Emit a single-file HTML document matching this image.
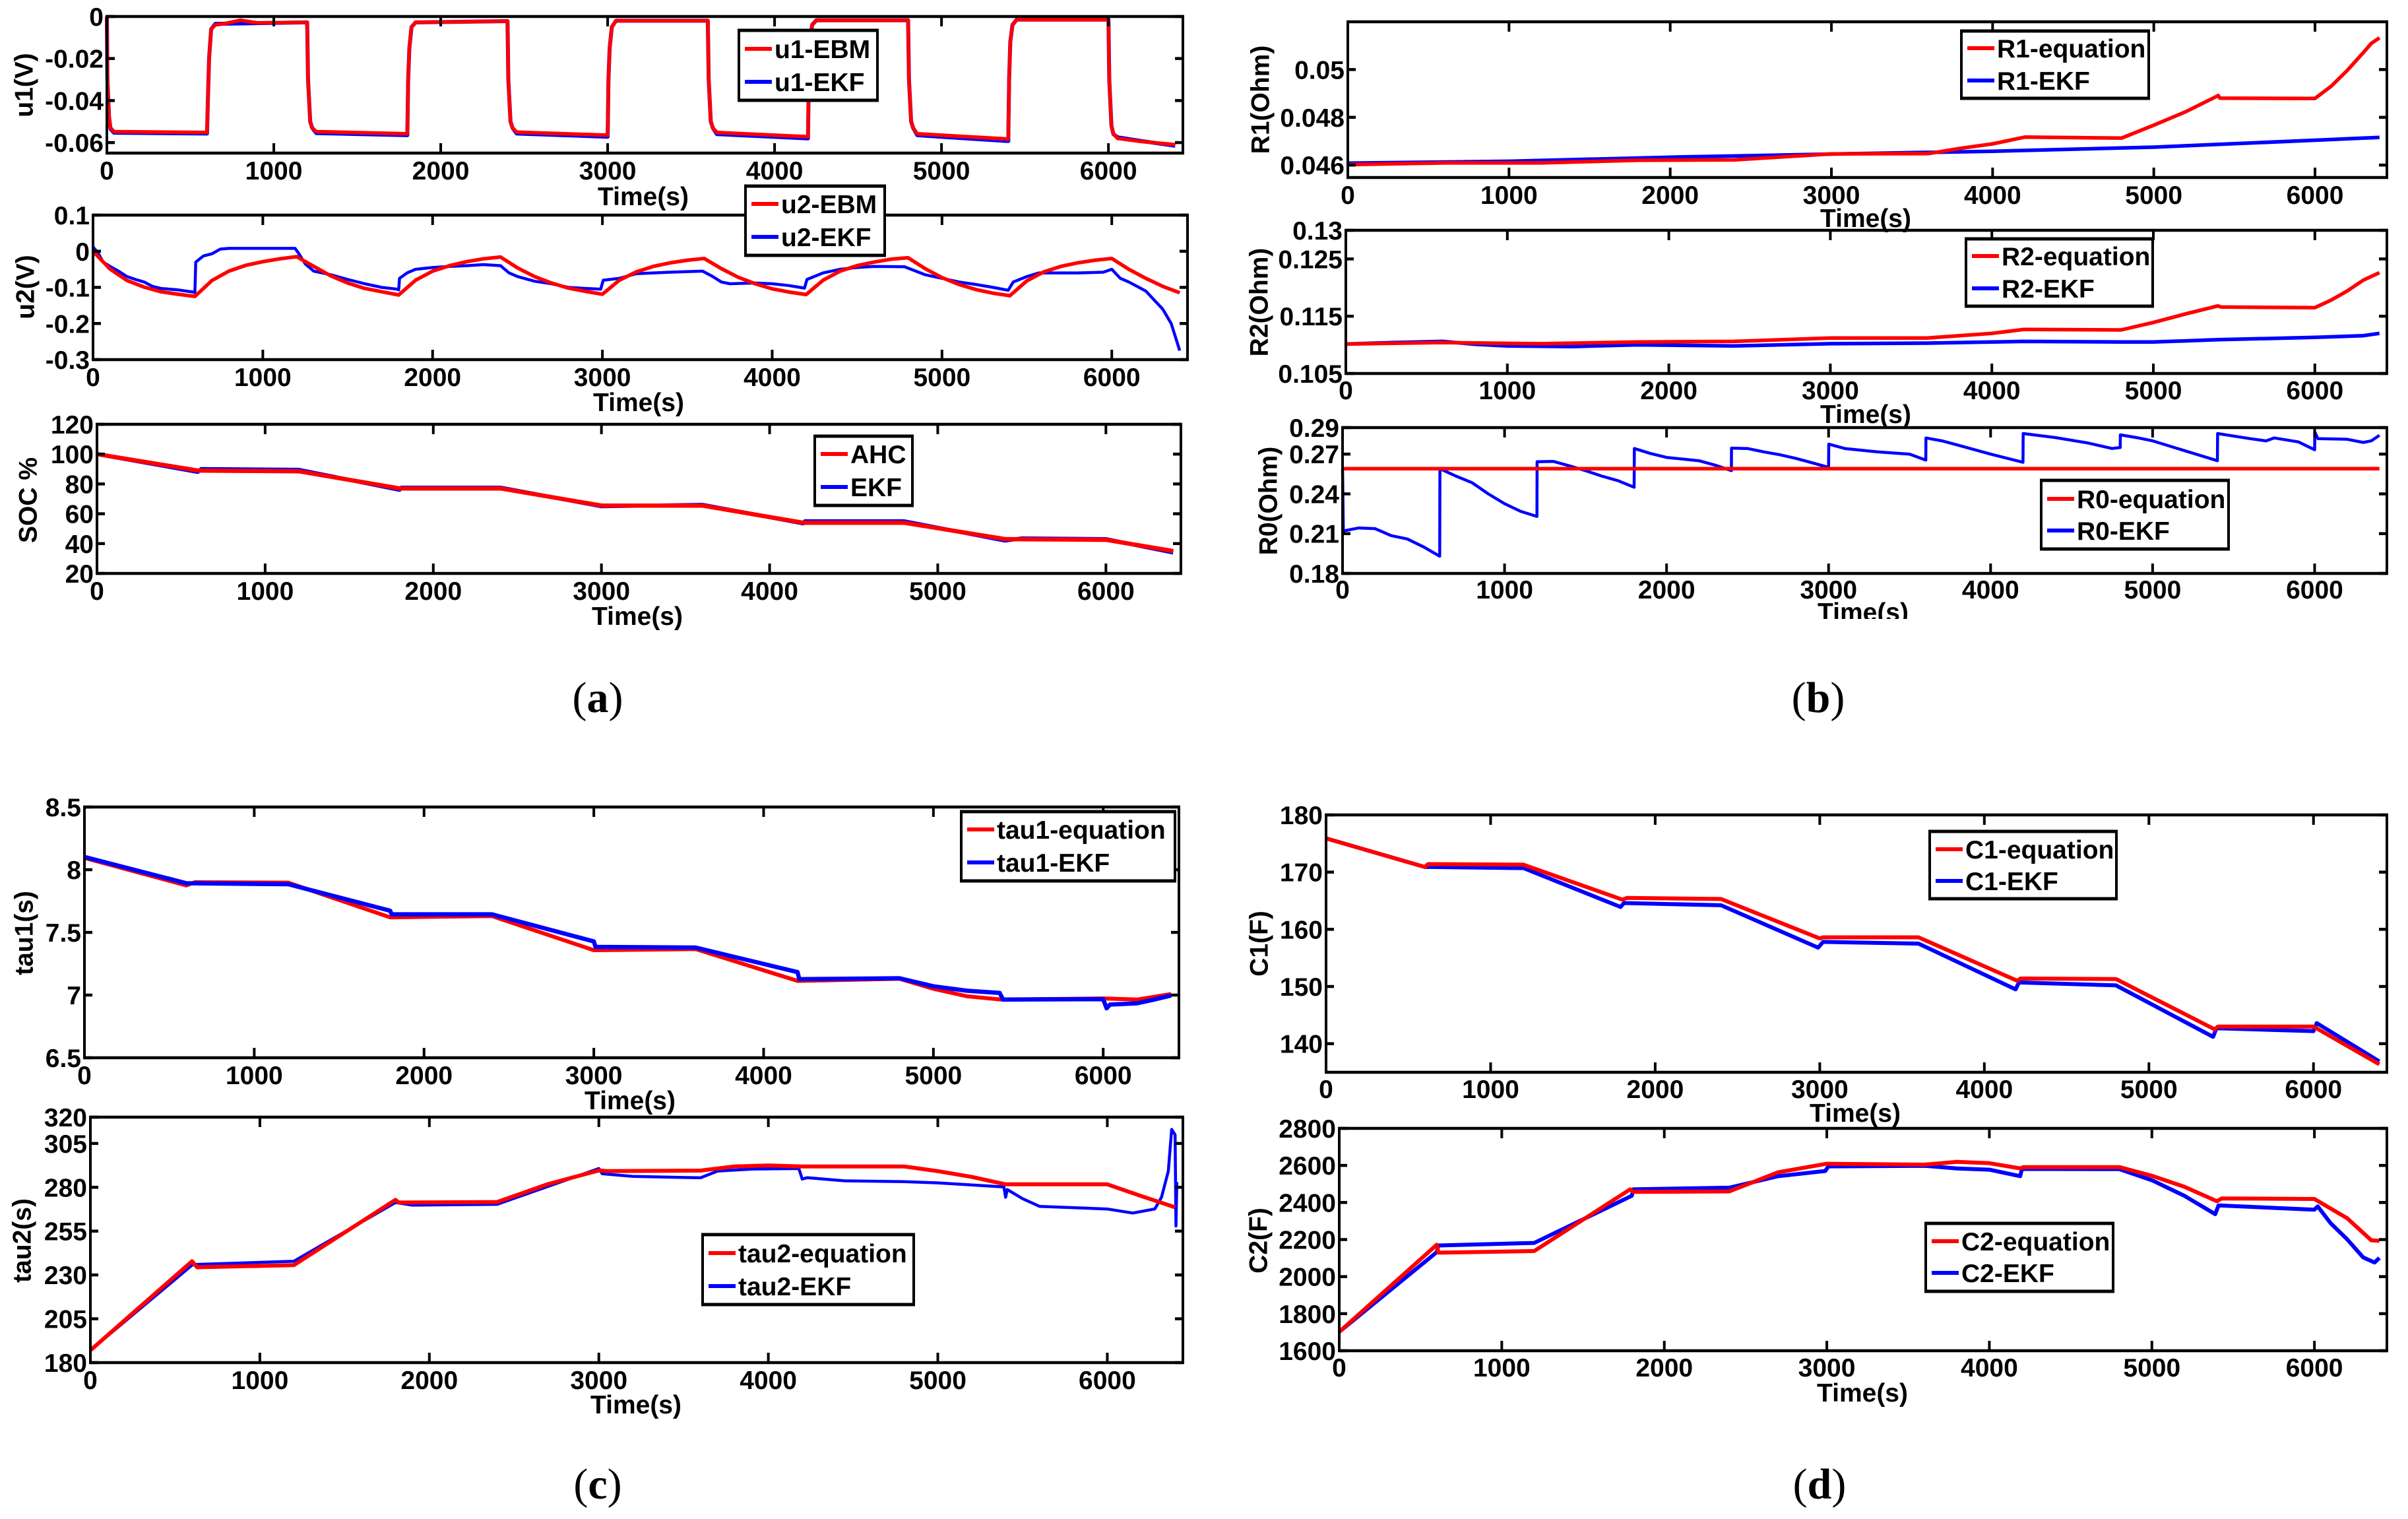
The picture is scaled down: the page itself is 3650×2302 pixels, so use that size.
<!DOCTYPE html>
<html lang="en">
<head>
<meta charset="utf-8">
<title>Battery model parameter estimation charts</title>
<style>
html,body{margin:0;padding:0;background:#fff;}
#figure{display:block;width:3650px;height:2302px;background:#fff;}
text{font-family:"Liberation Sans",sans-serif;font-weight:700;font-size:39px;fill:#000;}
.cap{font-family:"Liberation Serif",serif;font-weight:400;font-size:66px;}
.cap tspan{font-weight:700;}
</style>
</head>
<body>
<svg id="figure" xmlns="http://www.w3.org/2000/svg" width="3650" height="2302" viewBox="0 0 3650 2302"></svg>
<script>
/* ---------- shared ticks ---------- */
const timeTicks = [0, 1000, 2000, 3000, 4000, 5000, 6000];
const timeMax = 6446;

/* ---------- (a) u1 ---------- */
const u1Ticks = [0, -0.02, -0.04, -0.06];
const u1TickLabels = ['0', '-0.02', '-0.04', '-0.06'];
const u1EbmT = [0,3,13,22,42,600,605,612,625,650,700,800,900,1200,1205,1218,1230,1255,1800,1805,1812,1825,1850,2400,2405,2418,2430,2455,3000,3005,3012,3025,3050,3600,3605,3618,3630,3655,4200,4205,4212,4225,4250,4800,4805,4818,4830,4855,5400,5405,5412,5425,5450,6000,6005,6018,6030,6055,6200,6400];
const u1EbmV = [0,-0.03,-0.048,-0.053,-0.0548,-0.0552,-0.04,-0.02,-0.006,-0.004,-0.0035,-0.0018,-0.003,-0.0028,-0.03,-0.05,-0.053,-0.0548,-0.0558,-0.03,-0.015,-0.005,-0.0028,-0.0022,-0.03,-0.05,-0.053,-0.055,-0.0565,-0.03,-0.015,-0.005,-0.002,-0.002,-0.03,-0.05,-0.053,-0.0552,-0.0572,-0.03,-0.012,-0.004,-0.0018,-0.0018,-0.03,-0.05,-0.053,-0.0558,-0.0583,-0.03,-0.012,-0.004,-0.0015,-0.0015,-0.03,-0.052,-0.056,-0.058,-0.0595,-0.061];
const u1EkfT = [0,3,13,22,42,600,605,612,625,650,1200,1205,1218,1230,1255,1800,1805,1812,1825,1850,2400,2405,2418,2430,2455,3000,3005,3012,3025,3050,3600,3605,3618,3630,3655,4200,4205,4212,4225,4250,4800,4805,4818,4830,4855,5400,5405,5412,5425,5450,6000,6005,6018,6030,6055,6200,6400];
const u1EkfV = [0,-0.03,-0.048,-0.0535,-0.0553,-0.0557,-0.04,-0.02,-0.006,-0.0035,-0.0028,-0.03,-0.05,-0.053,-0.0555,-0.0565,-0.03,-0.015,-0.005,-0.0028,-0.0022,-0.03,-0.05,-0.053,-0.0557,-0.0572,-0.03,-0.015,-0.005,-0.002,-0.002,-0.03,-0.05,-0.053,-0.056,-0.058,-0.03,-0.012,-0.004,-0.0018,-0.0018,-0.03,-0.05,-0.053,-0.0565,-0.0593,-0.03,-0.012,-0.004,-0.0015,-0.0015,-0.03,-0.052,-0.056,-0.0575,-0.0593,-0.0615];

/* ---------- (a) u2 ---------- */
const u2Ticks = [0.1, 0, -0.1, -0.2, -0.3];
const u2TickLabels = ['0.1', '0', '-0.1', '-0.2', '-0.3'];
const u2EbmT = [0,100,200,300,400,500,600,700,800,900,1000,1100,1200,1300,1400,1500,1600,1700,1800,1900,2000,2100,2200,2300,2400,2500,2600,2700,2800,2900,3000,3100,3200,3300,3400,3500,3600,3700,3800,3900,4000,4100,4200,4300,4400,4500,4600,4700,4800,4900,5000,5100,5200,5300,5400,5500,5600,5700,5800,5900,6000,6100,6200,6300,6400];
const u2EbmV = [0,-0.049,-0.081,-0.099,-0.112,-0.119,-0.125,-0.081,-0.055,-0.039,-0.029,-0.021,-0.015,-0.042,-0.068,-0.088,-0.103,-0.112,-0.121,-0.08,-0.055,-0.04,-0.029,-0.021,-0.016,-0.046,-0.07,-0.088,-0.102,-0.111,-0.119,-0.08,-0.057,-0.042,-0.032,-0.025,-0.02,-0.048,-0.072,-0.09,-0.104,-0.113,-0.12,-0.08,-0.055,-0.04,-0.03,-0.022,-0.018,-0.048,-0.073,-0.092,-0.106,-0.116,-0.123,-0.082,-0.057,-0.042,-0.032,-0.025,-0.02,-0.05,-0.075,-0.097,-0.115];
const u2EkfT = [0,30,60,100,150,200,250,300,350,400,500,590,600,605,650,700,750,800,1000,1190,1210,1250,1300,1400,1500,1600,1700,1790,1800,1805,1850,1900,2000,2100,2200,2300,2400,2450,2500,2600,2700,2800,2900,2990,3005,3100,3200,3400,3590,3650,3700,3750,3900,4000,4100,4190,4205,4300,4400,4500,4600,4780,4900,5000,5100,5200,5300,5390,5420,5500,5570,5600,5800,5950,6000,6050,6100,6200,6300,6350,6400];
const u2EkfV = [0.012,-0.005,-0.03,-0.042,-0.055,-0.07,-0.078,-0.085,-0.097,-0.103,-0.107,-0.113,-0.115,-0.03,-0.013,-0.007,0.006,0.008,0.008,0.008,-0.005,-0.035,-0.055,-0.065,-0.078,-0.09,-0.1,-0.105,-0.107,-0.075,-0.06,-0.05,-0.045,-0.042,-0.04,-0.037,-0.04,-0.06,-0.07,-0.083,-0.09,-0.1,-0.103,-0.105,-0.08,-0.075,-0.062,-0.058,-0.055,-0.07,-0.085,-0.09,-0.088,-0.09,-0.095,-0.102,-0.078,-0.06,-0.05,-0.045,-0.042,-0.043,-0.065,-0.075,-0.085,-0.092,-0.1,-0.108,-0.085,-0.07,-0.06,-0.06,-0.06,-0.058,-0.05,-0.075,-0.085,-0.11,-0.16,-0.2,-0.275];

/* ---------- (a) SOC ---------- */
const socTicks = [120, 100, 80, 60, 40, 20];
const socTickLabels = ['120', '100', '80', '60', '40', '20'];
const socAhcT = [0,600,1200,1800,2400,3000,3600,4200,4800,5400,6000,6400];
const socAhcV = [100,89,88.5,77,77,65.5,65.5,54,54,43,42.5,35];
const socEkfT = [0,600,620,1200,1800,1810,2400,3000,3600,4200,4210,4800,5400,5500,6000,6400];
const socEkfV = [100,88,90,89.5,76,77.5,77.5,65,66,53.5,55,55,42,43.5,43,34];

/* ---------- (b) R1 ---------- */
const r1Ticks = [0.05, 0.048, 0.046];
const r1TickLabels = ['0.05', '0.048', '0.046'];
const r1EqT = [0,600,1200,1800,2400,3000,3600,3800,4000,4200,4800,5000,5200,5400,5410,6000,6100,6200,6300,6350,6400];
const r1EqV = [0.04602,0.04609,0.04609,0.0462,0.04622,0.04647,0.04648,0.0467,0.04689,0.04717,0.04713,0.04767,0.04824,0.04891,0.0488,0.04879,0.0493,0.04996,0.05071,0.0511,0.05133];
const r1EkfT = [0,1000,2000,3000,4000,5000,6000,6400];
const r1EkfV = [0.04608,0.04616,0.04633,0.04646,0.04658,0.04675,0.04704,0.04716];

/* ---------- (b) R2 ---------- */
const r2Ticks = [0.13, 0.125, 0.115, 0.105];
const r2TickLabels = ['0.13', '0.125', '0.115', '0.105'];
const r2EqT = [0,600,1200,1800,2400,3000,3600,4000,4200,4800,5000,5200,5400,5420,6000,6100,6200,6300,6400];
const r2EqV = [0.11014,0.1104,0.1102,0.1105,0.1106,0.1112,0.1112,0.112,0.1127,0.1126,0.1139,0.1154,0.1168,0.1166,0.1165,0.1178,0.1194,0.1213,0.1226];
const r2EkfT = [0,300,600,800,1000,1400,1800,2400,3000,3600,4200,4800,5000,5400,6000,6300,6400];
const r2EkfV = [0.11014,0.1104,0.1106,0.1101,0.1098,0.1097,0.11,0.1098,0.1102,0.1103,0.1106,0.1105,0.1105,0.1109,0.1113,0.1116,0.112];

/* ---------- (b) R0 ---------- */
const r0Ticks = [0.29, 0.27, 0.24, 0.21, 0.18];
const r0TickLabels = ['0.29', '0.27', '0.24', '0.21', '0.18'];
const r0EqT = [0,6400];
const r0EqV = [0.259,0.259];
const r0EkfT = [0,5,100,200,300,400,500,600,601,700,800,900,1000,1100,1200,1201,1300,1400,1500,1600,1700,1800,1801,1900,2000,2200,2300,2400,2401,2500,2600,2700,2800,2900,3000,3001,3100,3300,3500,3600,3601,3700,3800,4000,4200,4201,4400,4600,4750,4800,4801,4900,5000,5200,5400,5401,5600,5700,5750,5900,6000,6001,6020,6200,6300,6350,6400];
const r0EkfV = [0.259,0.212,0.2143,0.2138,0.2085,0.206,0.2,0.193,0.259,0.2534,0.2484,0.24,0.2326,0.2268,0.223,0.2642,0.2645,0.2612,0.2575,0.2534,0.25,0.245,0.2742,0.2705,0.2675,0.265,0.2617,0.2575,0.2745,0.2742,0.2717,0.2695,0.2667,0.2634,0.26,0.2775,0.2742,0.2717,0.27,0.2655,0.2822,0.28,0.2767,0.27,0.2638,0.2855,0.2825,0.2784,0.2742,0.275,0.2845,0.2825,0.28,0.2725,0.265,0.2855,0.2817,0.28,0.2822,0.2792,0.2733,0.2867,0.2817,0.2812,0.2788,0.28,0.2842];

/* ---------- (c) tau1 ---------- */
const tau1Ticks = [8.5, 8, 7.5, 7, 6.5];
const tau1TickLabels = ['8.5', '8', '7.5', '7', '6.5'];
const tau1EqT = [0,600,650,1200,1800,2400,3000,3600,4200,4800,5000,5200,5400,6000,6200,6400];
const tau1EqV = [8.094,7.875,7.9,7.897,7.62,7.63,7.358,7.367,7.113,7.13,7.05,6.99,6.964,6.973,6.964,7.008];
const tau1EkfT = [0,600,1200,1800,1810,2400,3000,3010,3600,4200,4210,4800,5000,5200,5390,5410,6000,6020,6040,6200,6300,6400];
const tau1EkfV = [8.102,7.892,7.884,7.673,7.644,7.644,7.428,7.384,7.379,7.183,7.127,7.134,7.07,7.034,7.017,6.964,6.968,6.894,6.924,6.934,6.964,6.997];

/* ---------- (c) tau2 ---------- */
const tau2Ticks = [320, 305, 280, 255, 230, 205, 180];
const tau2TickLabels = ['320', '305', '280', '255', '230', '205', '180'];
const tau2EqT = [0,600,630,1200,1800,1820,2400,2700,3000,3050,3600,3800,4000,4200,4800,5000,5200,5400,6000,6200,6400];
const tau2EqV = [187,237.8,234.4,235.6,272.8,271.3,271.6,281.8,289.6,289.2,289.5,291.9,292.4,291.9,291.9,289.2,285.9,281.7,281.7,275,268.6];
const tau2EkfT = [0,600,620,1200,1800,1900,2400,3000,3020,3200,3600,3700,3900,4180,4200,4230,4450,4800,5000,5200,5390,5400,5410,5500,5600,6000,6150,6280,6320,6360,6380,6400,6405,6410];
const tau2EkfV = [187,235.6,236,237.8,271.3,269.8,270.3,290.7,287.7,286.2,285.4,289.2,290.4,290.7,284.7,285.5,283.7,283.2,282.5,281.3,280.2,274.3,278.7,273.5,269.1,267.6,265.3,267.6,274.3,289.2,313,310,257.9,283];

/* ---------- (d) C1 ---------- */
const c1Ticks = [180, 170, 160, 150, 140];
const c1TickLabels = ['180', '170', '160', '150', '140'];
const c1EqT = [0,600,620,1200,1800,1830,2400,3000,3020,3600,4200,4220,4800,5400,5420,6000,6400];
const c1EqV = [175.9,170.9,171.4,171.3,165.2,165.5,165.3,158.4,158.6,158.6,151,151.4,151.3,142.5,143,143,136.4];
const c1EkfT = [0,600,640,1200,1790,1810,2400,2990,3020,3600,4190,4210,4800,5390,5410,6000,6020,6400];
const c1EkfV = [175.9,170.9,170.9,170.7,163.9,164.6,164.2,156.8,157.8,157.5,149.5,150.7,150.2,141.2,142.7,142.2,143.6,136.9];

/* ---------- (d) C2 ---------- */
const c2Ticks = [2800, 2600, 2400, 2200, 2000, 1800, 1600];
const c2TickLabels = ['2800', '2600', '2400', '2200', '2000', '1800', '1600'];
const c2EqT = [0,600,610,1200,1790,1810,2400,2700,3000,3600,3800,4000,4190,4210,4800,5000,5200,5400,5430,6000,6200,6350,6400];
const c2EqV = [1702,2172,2129,2138,2471,2457,2460,2563,2609,2604,2619,2612,2584,2591,2591,2544,2485,2407,2422,2419,2316,2196,2193];
const c2EkfT = [0,600,610,1200,1800,1810,2400,2700,2990,3010,3600,3800,4000,4190,4200,4800,5000,5200,5390,5410,6000,6020,6100,6200,6300,6370,6400];
const c2EkfV = [1702,2132,2168,2182,2436,2471,2480,2542,2570,2595,2598,2584,2577,2542,2581,2580,2520,2436,2337,2384,2361,2379,2288,2203,2104,2076,2101];

/* ---------- layout ---------- */
const NS = 'http://www.w3.org/2000/svg';
const svg = document.getElementById('figure');
const RED = '#ff0000', BLUE = '#0000ff';

const panels = [
  {key:'u1', L:162, T:25, R:1793, B:232, yTop:0, yBot:-0.065, ticks:u1Ticks, labels:u1TickLabels, title:'u1(V)', tx:37, ty:129, tickY:258, timeX:975, timeY:298,
   s1:{name:'u1-EKF',t:u1EkfT,v:u1EkfV,c:BLUE,w:6}, s2:{name:'u1-EBM',t:u1EbmT,v:u1EbmV,c:RED,w:5.5}, order:['s1','s2'],
   leg:{L:1120,T:46,R:1330,B:152,r1:74,r2:124,n1:'u1-EBM',n2:'u1-EKF'}},
  {key:'u2', L:141, T:326, R:1800, B:545, yTop:0.1, yBot:-0.3, ticks:u2Ticks, labels:u2TickLabels, title:'u2(V)', tx:39, ty:435, tickY:571, timeX:968, timeY:610,
   s1:{name:'u2-EKF',t:u2EkfT,v:u2EkfV,c:BLUE,w:4.5}, s2:{name:'u2-EBM',t:u2EbmT,v:u2EbmV,c:RED,w:5.5}, order:['s1','s2'],
   leg:{L:1130,T:282,R:1341,B:387,r1:309,r2:359,n1:'u2-EBM',n2:'u2-EKF'}},
  {key:'soc', L:147, T:643, R:1790, B:869, yTop:120, yBot:20, ticks:socTicks, labels:socTickLabels, title:'SOC %', tx:43, ty:758, tickY:895, timeX:966, timeY:934,
   s1:{name:'EKF',t:socEkfT,v:socEkfV,c:BLUE,w:6}, s2:{name:'AHC',t:socAhcT,v:socAhcV,c:RED,w:6.5}, order:['s1','s2'],
   leg:{L:1235,T:661,R:1383,B:766,r1:688,r2:738,n1:'AHC',n2:'EKF'}},
  {key:'r1', L:2043, T:33, R:3618, B:269, yTop:0.052, yBot:0.04548, ticks:r1Ticks, labels:r1TickLabels, title:'R1(Ohm)', tx:1911, ty:151, tickY:295, timeX:2828, timeY:331,
   s1:{name:'R1-EKF',t:r1EkfT,v:r1EkfV,c:BLUE,w:5.5}, s2:{name:'R1-equation',t:r1EqT,v:r1EqV,c:RED,w:5.5}, order:['s1','s2'],
   leg:{L:2973,T:47,R:3257,B:149,r1:73,r2:122,n1:'R1-equation',n2:'R1-EKF'}},
  {key:'r2', L:2040, T:349, R:3618, B:566, yTop:0.13, yBot:0.105, ticks:r2Ticks, labels:r2TickLabels, title:'R2(Ohm)', tx:1909, ty:458, tickY:591, timeX:2828, timeY:628,
   s1:{name:'R2-EKF',t:r2EkfT,v:r2EkfV,c:BLUE,w:5.5}, s2:{name:'R2-equation',t:r2EqT,v:r2EqV,c:RED,w:5.5}, order:['s1','s2'],
   leg:{L:2980,T:362,R:3263,B:464,r1:388,r2:437,n1:'R2-equation',n2:'R2-EKF'}},
  {key:'r0', L:2035, T:648, R:3618, B:869, yTop:0.29, yBot:0.18, ticks:r0Ticks, labels:r0TickLabels, title:'R0(Ohm)', tx:1923, ty:759, tickY:893, timeX:2824, timeY:928, clipBelow:938,
   s1:{name:'R0-EKF',t:r0EkfT,v:r0EkfV,c:BLUE,w:4.5}, s2:{name:'R0-equation',t:r0EqT,v:r0EqV,c:RED,w:5.5}, order:['s1','s2'],
   leg:{L:3094,T:728,R:3378,B:832,r1:756,r2:804,n1:'R0-equation',n2:'R0-EKF'}},
  {key:'tau1', L:128, T:1223, R:1787, B:1603, yTop:8.5, yBot:6.5, ticks:tau1Ticks, labels:tau1TickLabels, title:'tau1(s)', tx:37, ty:1414, tickY:1629, timeX:955, timeY:1668,
   s1:{name:'tau1-EKF',t:tau1EkfT,v:tau1EkfV,c:BLUE,w:6.5}, s2:{name:'tau1-equation',t:tau1EqT,v:tau1EqV,c:RED,w:6}, order:['s2','s1'],
   leg:{L:1457,T:1230,R:1781,B:1335,r1:1257,r2:1307,n1:'tau1-equation',n2:'tau1-EKF'}},
  {key:'tau2', L:137, T:1693, R:1793, B:2065, yTop:320, yBot:180, ticks:tau2Ticks, labels:tau2TickLabels, title:'tau2(s)', tx:34, ty:1880, tickY:2091, timeX:964, timeY:2129,
   s1:{name:'tau2-EKF',t:tau2EkfT,v:tau2EkfV,c:BLUE,w:4.5}, s2:{name:'tau2-equation',t:tau2EqT,v:tau2EqV,c:RED,w:6}, order:['s1','s2'],
   leg:{L:1065,T:1871,R:1385,B:1977,r1:1899,r2:1949,n1:'tau2-equation',n2:'tau2-EKF'}},
  {key:'c1', L:2010, T:1235, R:3618, B:1625, yTop:180, yBot:135, ticks:c1Ticks, labels:c1TickLabels, title:'C1(F)', tx:1909, ty:1430, tickY:1650, timeX:2812, timeY:1687,
   s1:{name:'C1-EKF',t:c1EkfT,v:c1EkfV,c:BLUE,w:6}, s2:{name:'C1-equation',t:c1EqT,v:c1EqV,c:RED,w:6}, order:['s1','s2'],
   leg:{L:2925,T:1260,R:3208,B:1362,r1:1287,r2:1335,n1:'C1-equation',n2:'C1-EKF'}},
  {key:'c2', L:2030, T:1710, R:3618, B:2047, yTop:2800, yBot:1600, ticks:c2Ticks, labels:c2TickLabels, title:'C2(F)', tx:1908, ty:1880, tickY:2072, timeX:2823, timeY:2111,
   s1:{name:'C2-EKF',t:c2EkfT,v:c2EkfV,c:BLUE,w:6}, s2:{name:'C2-equation',t:c2EqT,v:c2EqV,c:RED,w:6}, order:['s1','s2'],
   leg:{L:2919,T:1854,R:3203,B:1957,r1:1881,r2:1929,n1:'C2-equation',n2:'C2-EKF'}}
];

const captions = [
  {letter:'a', x:906, y:1079},
  {letter:'b', x:2756, y:1079},
  {letter:'c', x:906, y:2271},
  {letter:'d', x:2758, y:2271}
];

function mk(tag, attrs, parent) {
  const el = document.createElementNS(NS, tag);
  for (const k in attrs) el.setAttribute(k, attrs[k]);
  parent.appendChild(el);
  return el;
}

function drawPanel(p) {
  const g = mk('g', {}, svg);
  
  

  const xS = t => p.L + (t / timeMax) * (p.R - p.L);
  const yS = v => p.T + (p.yTop - v) / (p.yTop - p.yBot) * (p.B - p.T);

  /* series */
  p.order.forEach(sk => {
    const s = p[sk];
    const pts = s.t.map((t, i) => xS(t).toFixed(1) + ',' + yS(s.v[i]).toFixed(1)).join(' ');
    const line = mk('polyline', {points:pts, fill:'none', stroke:s.c, 'stroke-width':s.w, 'stroke-linejoin':'round'}, g);
    
    
  });

  /* axes frame */
  const frame = [
    ['axis-top', p.L - 2, p.T - 2.25, p.R - p.L + 4, 4.5],
    ['axis-bottom', p.L - 2, p.B - 2.25, p.R - p.L + 4, 4.5],
    ['axis-left', p.L - 2, p.T, 4, p.B - p.T],
    ['axis-right', p.R - 2, p.T, 4, p.B - p.T]
  ];
  frame.forEach(f => {
    const r = mk('rect', {x:f[1], y:f[2], width:f[3], height:f[4], fill:'#000'}, g);
    
    
  });

  /* x ticks and labels */
  timeTicks.forEach(t => {
    const x = xS(t);
    const top = mk('rect', {x:x - 2, y:p.T, width:4, height:15, fill:'#000'}, g);
    
    
    const bot = mk('rect', {x:x - 2, y:p.B - 15, width:4, height:15, fill:'#000'}, g);
    
    
    const lab = mk('text', {x:x, y:p.tickY + 14, 'text-anchor':'middle'}, g);
    lab.textContent = String(t);
    
    
  });

  /* y ticks and labels */
  p.ticks.forEach((v, i) => {
    const y = yS(v);
    const lf = mk('rect', {x:p.L, y:y - 2.25, width:12, height:4.5, fill:'#000'}, g);
    
    
    const rt = mk('rect', {x:p.R - 12, y:y - 2.25, width:12, height:4.5, fill:'#000'}, g);
    
    
    const lab = mk('text', {x:p.L - 5, y:y + 14, 'text-anchor':'end'}, g);
    lab.textContent = p.labels[i];
    
    
  });

  /* axis titles */
  const yt = mk('text', {x:p.tx, y:p.ty, 'text-anchor':'middle', 'dominant-baseline':'central', transform:'rotate(-90 ' + p.tx + ' ' + p.ty + ')', 'font-size':38}, g);
  yt.textContent = p.title;
  
  

  const xt = mk('text', {x:p.timeX, y:p.timeY + 13, 'text-anchor':'middle'}, g);
  xt.textContent = 'Time(s)';
  
  

  if (p.clipBelow) {
    const mask = mk('rect', {x:p.timeX - 100, y:p.clipBelow, width:200, height:30, fill:'#fff'}, g);
    
    
  }

  /* legend */
  const l = p.leg;
  const lg = mk('g', {}, svg);
  
  
  const bg = mk('rect', {x:l.L, y:l.T, width:l.R - l.L, height:l.B - l.T, fill:'#fff'}, lg);
  
  
  const edges = [[l.L - 2, l.T - 2.5, l.R - l.L + 4, 5], [l.L - 2, l.B - 2.5, l.R - l.L + 4, 5], [l.L - 2, l.T, 4, l.B - l.T], [l.R - 2, l.T, 4, l.B - l.T]];
  edges.forEach(e => {
    const r = mk('rect', {x:e[0], y:e[1], width:e[2], height:e[3], fill:'#000'}, lg);
    
    
  });
  const rows = [[l.r1, l.n1, RED], [l.r2, l.n2, BLUE]];
  rows.forEach(row => {
    const sw = mk('rect', {x:l.L + 9, y:row[0] - 3, width:41, height:6, fill:row[2]}, lg);
    
    
    const tx = mk('text', {x:l.L + 54, y:row[0] + 14}, lg);
    tx.textContent = row[1];
    
    
  });
}

panels.forEach(drawPanel);

captions.forEach(c => {
  const t = mk('text', {x:c.x, y:c.y, 'text-anchor':'middle', class:'cap'}, svg);
  
  
  t.appendChild(document.createTextNode('('));
  const b = mk('tspan', {}, t);
  b.textContent = c.letter;
  
  
  t.appendChild(document.createTextNode(')'));
});
</script>
</body>
</html>
